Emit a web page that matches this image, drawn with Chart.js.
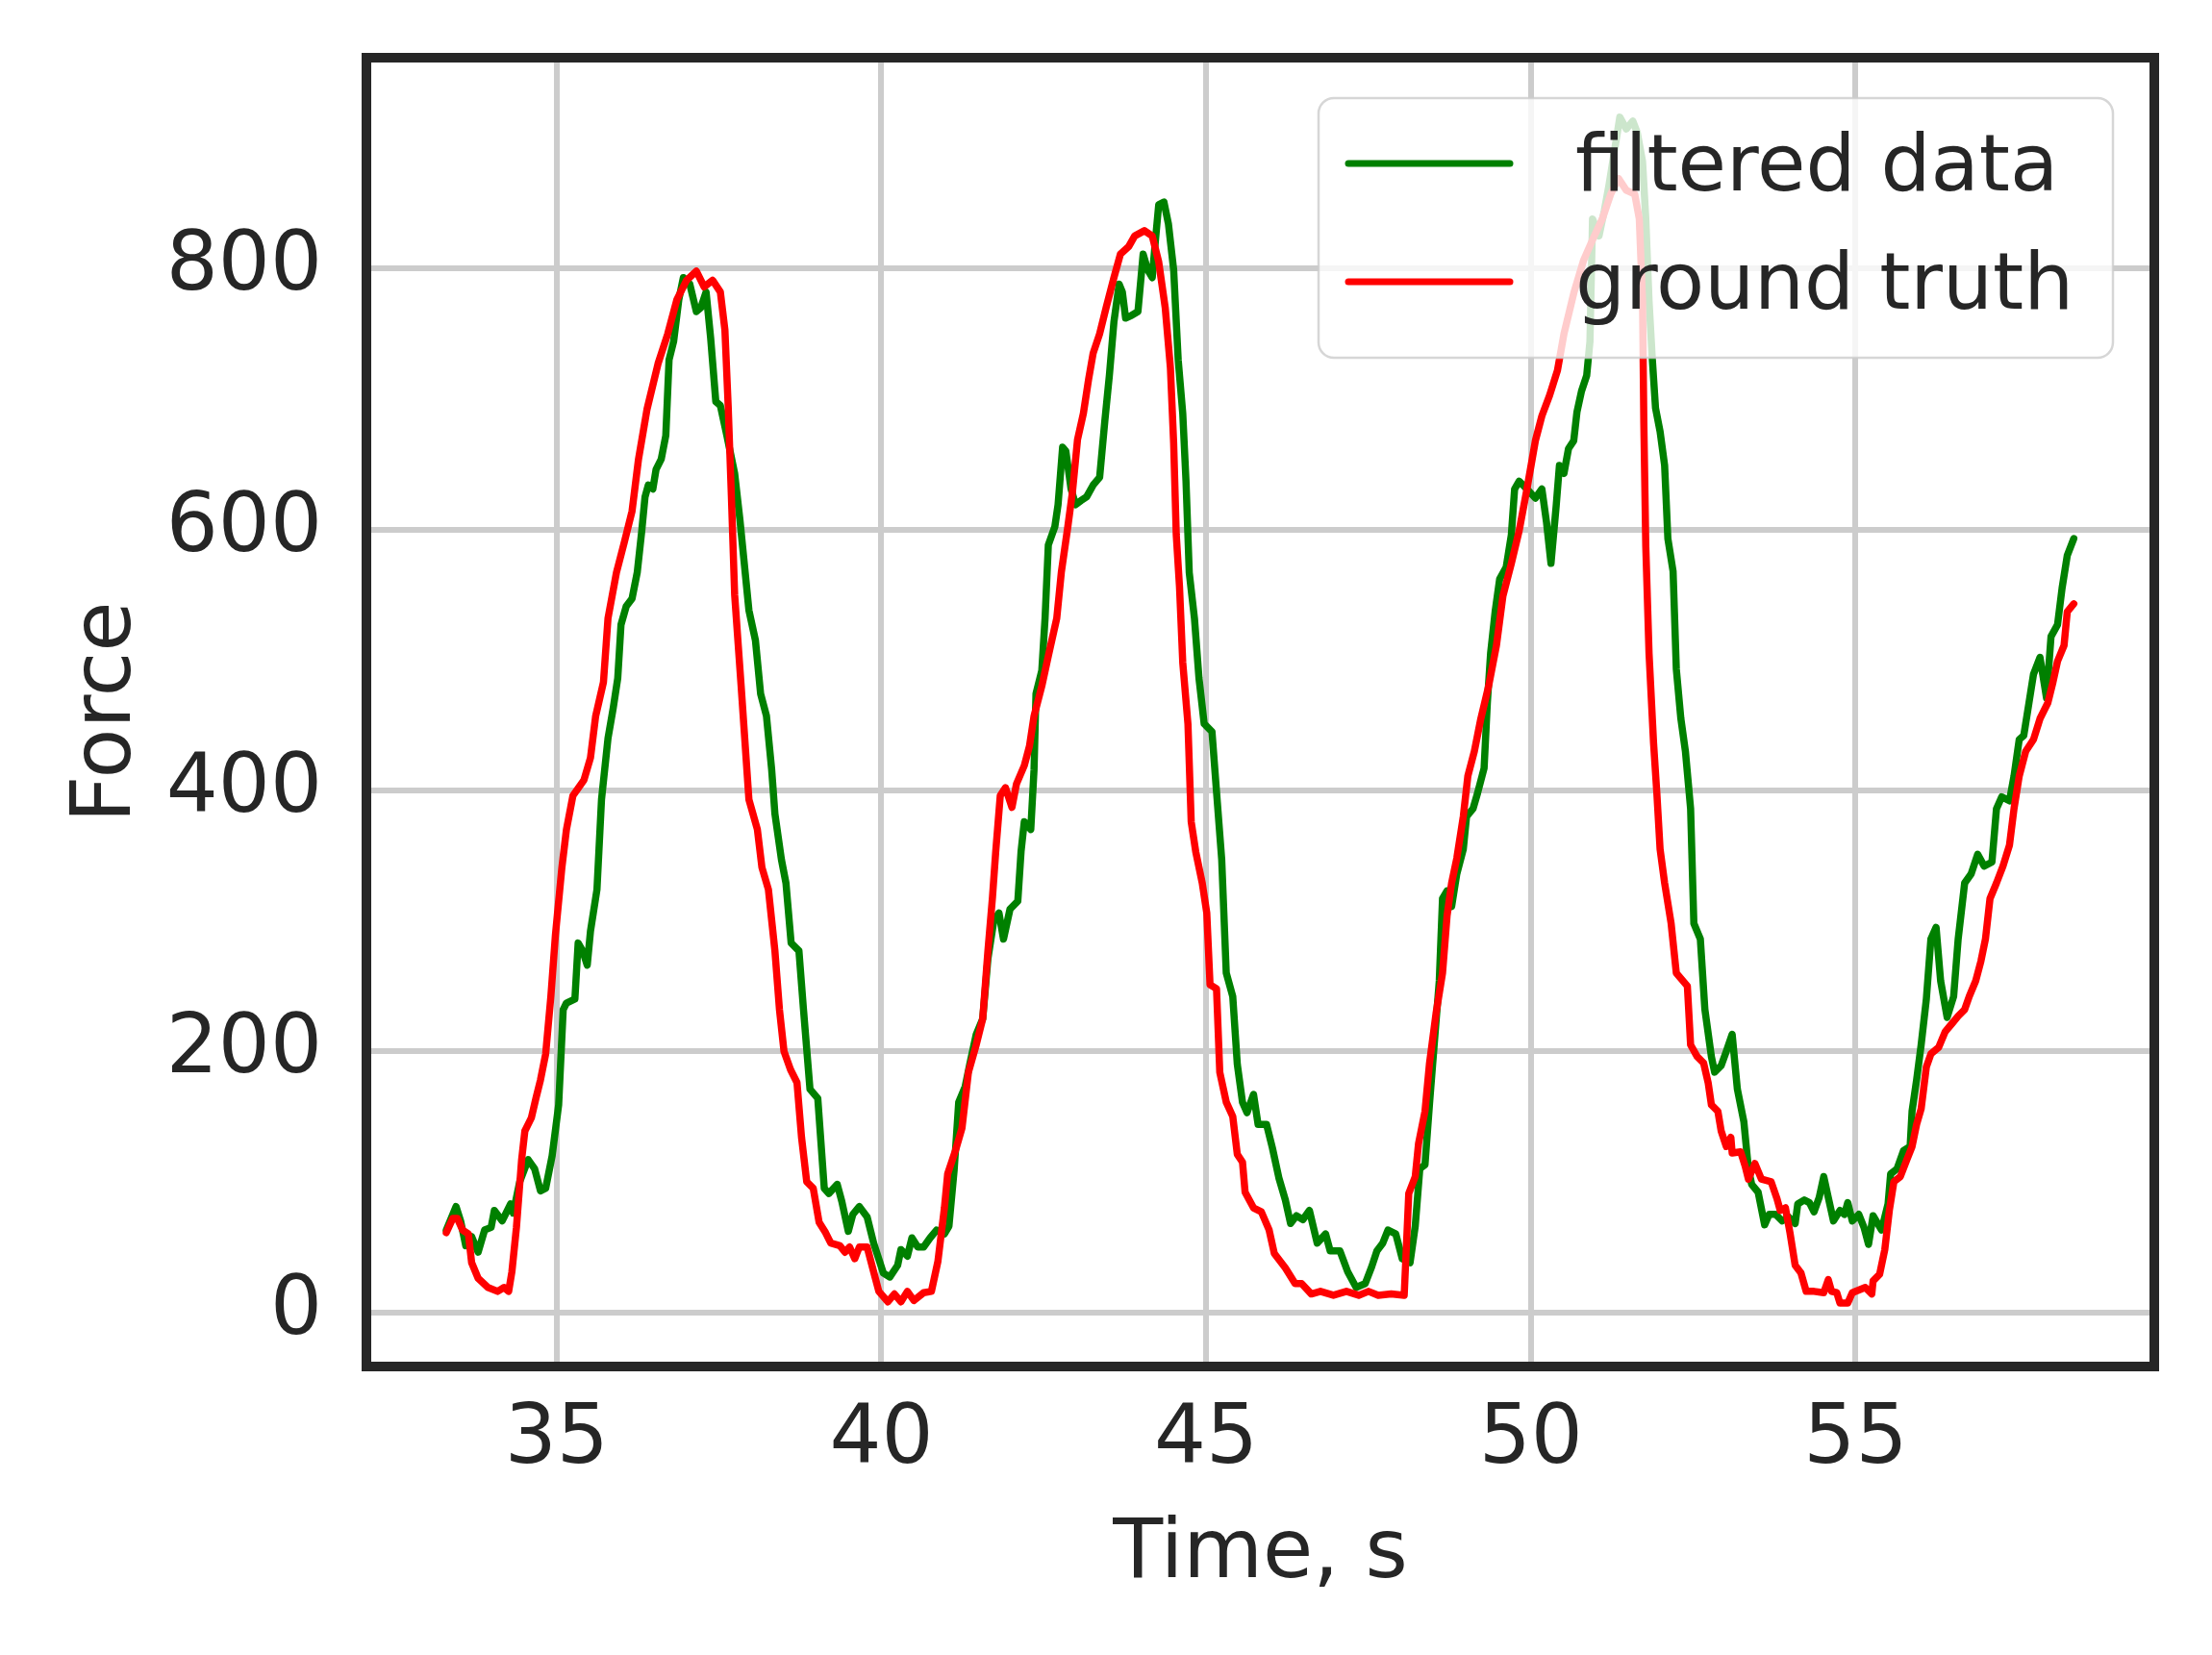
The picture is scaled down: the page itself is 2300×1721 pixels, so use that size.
<!DOCTYPE html>
<html>
<head>
<meta charset="utf-8">
<script src="https://cdn.jsdelivr.net/npm/chart.js@4/dist/chart.umd.min.js"></script>
<style>
  html, body { margin: 0; padding: 0; background: #ffffff; }
  canvas { display: block; }
</style>
</head>
<body>
<canvas id="myChart" width="2300" height="1721"></canvas>
<script>
// values
const filteredTime = [
  33.30, 33.45, 33.52, 33.60, 33.69, 33.79, 33.89, 33.99, 34.04, 34.16, 34.29, 34.33, 34.43, 34.56, 34.66, 34.75,
  34.83, 34.93, 35.03, 35.10, 35.15, 35.28, 35.33, 35.40, 35.47, 35.52, 35.62, 35.69, 35.79, 35.87, 35.94, 35.99,
  36.07, 36.16, 36.24, 36.31, 36.36, 36.41, 36.48, 36.53, 36.61, 36.68, 36.73, 36.80, 36.88, 36.95, 37.05, 37.15,
  37.22, 37.30, 37.37, 37.45, 37.52, 37.62, 37.74, 37.82, 37.89, 37.96, 38.06, 38.14, 38.23, 38.31, 38.36, 38.46,
  38.53, 38.61, 38.73, 38.80, 38.90, 39.02, 39.12, 39.19, 39.32, 39.39, 39.49, 39.56, 39.66, 39.78, 39.88, 40.03,
  40.13, 40.25, 40.30, 40.40, 40.47, 40.56, 40.65, 40.75, 40.85, 40.97, 41.04, 41.12, 41.19, 41.29, 41.36, 41.46,
  41.56, 41.64, 41.73, 41.81, 41.88, 41.98, 42.10, 42.15, 42.20, 42.30, 42.35, 42.38, 42.47, 42.52, 42.57, 42.67,
  42.72, 42.79, 42.84, 42.92, 42.99, 43.07, 43.16, 43.26, 43.36, 43.44, 43.51, 43.58, 43.66, 43.71, 43.76, 43.85,
  43.95, 44.03, 44.10, 44.17, 44.22, 44.27, 44.35, 44.42, 44.50, 44.57, 44.64, 44.69, 44.74, 44.82, 44.89, 44.97,
  45.09, 45.16, 45.24, 45.31, 45.41, 45.48, 45.56, 45.63, 45.73, 45.80, 45.93, 46.02, 46.12, 46.22, 46.30, 46.39,
  46.49, 46.59, 46.71, 46.84, 46.91, 47.06, 47.18, 47.31, 47.45, 47.55, 47.63, 47.72, 47.80, 47.92, 48.02, 48.14,
  48.22, 48.29, 48.37, 48.44, 48.51, 48.59, 48.64, 48.71, 48.78, 48.86, 48.96, 49.01, 49.11, 49.18, 49.28, 49.33,
  49.38, 49.45, 49.52, 49.62, 49.70, 49.75, 49.82, 49.94, 50.07, 50.17, 50.24, 50.31, 50.39, 50.44, 50.51, 50.58,
  50.66, 50.71, 50.78, 50.86, 50.91, 50.95, 51.05, 51.13, 51.20, 51.30, 51.37, 51.47, 51.57, 51.64, 51.72, 51.77,
  51.82, 51.87, 51.92, 51.99, 52.06, 52.11, 52.19, 52.24, 52.31, 52.38, 52.46, 52.51, 52.61, 52.68, 52.78, 52.83,
  52.93, 53.01, 53.10, 53.18, 53.28, 53.35, 53.40, 53.50, 53.60, 53.67, 53.77, 53.87, 53.97, 54.07, 54.11, 54.21,
  54.29, 54.36, 54.44, 54.51, 54.58, 54.66, 54.76, 54.83, 54.88, 54.95, 55.05, 55.13, 55.20, 55.27, 55.40, 55.50,
  55.54, 55.64, 55.74, 55.84, 55.87, 55.94, 56.01, 56.09, 56.16, 56.24, 56.31, 56.41, 56.51, 56.58, 56.68, 56.78,
  56.88, 56.98, 57.10, 57.17, 57.25, 57.37, 57.44, 57.52, 57.59, 57.67, 57.74, 57.84, 57.94, 58.01, 58.11, 58.18,
  58.26, 58.36
];
const filteredForce = [
  63, 81, 70, 51, 58, 46, 63, 65, 78, 70, 83, 76, 100, 117, 110, 93,
  95, 120, 159, 232, 237, 240, 283, 277, 266, 292, 324, 393, 440, 463, 486, 527,
  541, 547, 567, 599, 625, 634, 631, 646, 654, 672, 730, 744, 776, 793, 788, 767,
  770, 782, 747, 698, 695, 672, 643, 608, 573, 538, 515, 474, 457, 416, 382, 347,
  329, 283, 277, 232, 171, 164, 95, 91, 98, 85, 62, 75, 81, 73, 53, 30,
  27, 36, 48, 43, 57, 50, 50, 57, 63, 60, 66, 109, 161, 173, 190, 213,
  225, 271, 300, 306, 286, 309, 315, 353, 376, 370, 416, 474, 492, 532, 588, 602,
  619, 663, 660, 631, 619, 622, 625, 634, 640, 683, 718, 759, 788, 782, 762, 764,
  767, 811, 799, 793, 822, 849, 851, 834, 799, 730, 689, 637, 567, 532, 486, 451,
  445, 399, 347, 260, 242, 190, 161, 153, 167, 144, 144, 126, 103, 86, 68, 74,
  71, 78, 53, 60, 47, 47, 31, 19, 22, 35, 47, 53, 63, 60, 41, 38,
  66, 110, 113, 160, 204, 254, 317, 323, 311, 336, 355, 380, 386, 398, 417, 467,
  505, 537, 562, 571, 596, 631, 637, 631, 624, 631, 606, 574, 618, 649, 643, 662,
  668, 690, 706, 718, 744, 838, 825, 844, 863, 894, 916, 907, 913, 904, 882, 838,
  775, 731, 693, 675, 649, 593, 568, 493, 455, 430, 386, 298, 286, 232, 196, 184,
  189, 200, 213, 171, 146, 110, 98, 92, 67, 75, 75, 70, 73, 68, 83, 86,
  84, 77, 88, 104, 88, 70, 78, 75, 84, 70, 75, 65, 52, 74, 63, 83,
  106, 110, 124, 127, 154, 178, 205, 240, 286, 295, 254, 226, 242, 286, 329, 336,
  351, 342, 345, 386, 395, 392, 411, 439, 442, 467, 489, 502, 471, 518, 527, 555,
  580, 593
];

const truthTime = [
  33.30, 33.40, 33.47, 33.55, 33.64, 33.69, 33.79, 33.94, 34.09, 34.19, 34.26, 34.31, 34.38, 34.46, 34.51, 34.61,
  34.68, 34.75, 34.83, 34.91, 34.98, 35.08, 35.15, 35.25, 35.42, 35.52, 35.60, 35.72, 35.79, 35.92, 36.04, 36.16,
  36.26, 36.39, 36.56, 36.71, 36.85, 37.00, 37.15, 37.27, 37.40, 37.52, 37.59, 37.64, 37.69, 37.74, 37.84, 37.96,
  38.09, 38.16, 38.26, 38.36, 38.43, 38.50, 38.60, 38.70, 38.77, 38.85, 38.95, 39.04, 39.14, 39.22, 39.36, 39.44,
  39.51, 39.59, 39.66, 39.78, 39.88, 39.96, 40.10, 40.20, 40.30, 40.40, 40.50, 40.65, 40.77, 40.87, 40.97, 41.02,
  41.14, 41.24, 41.34, 41.46, 41.56, 41.64, 41.71, 41.76, 41.83, 41.91, 42.01, 42.08, 42.20, 42.28, 42.35, 42.47,
  42.57, 42.70, 42.77, 42.87, 42.94, 43.02, 43.11, 43.19, 43.26, 43.36, 43.46, 43.58, 43.68, 43.81, 43.90, 44.05,
  44.17, 44.27, 44.37, 44.45, 44.50, 44.54, 44.59, 44.64, 44.72, 44.77, 44.84, 44.94, 45.01, 45.06, 45.16, 45.21,
  45.31, 45.41, 45.48, 45.56, 45.60, 45.73, 45.85, 45.97, 46.05, 46.22, 46.37, 46.47, 46.62, 46.76, 46.96, 47.16,
  47.35, 47.50, 47.65, 47.85, 48.05, 48.12, 48.22, 48.27, 48.37, 48.44, 48.54, 48.64, 48.71, 48.78, 48.86, 48.96,
  49.03, 49.13, 49.23, 49.35, 49.47, 49.57, 49.70, 49.82, 49.94, 50.07, 50.17, 50.29, 50.41, 50.51, 50.66, 50.81,
  50.95, 51.10, 51.23, 51.35, 51.47, 51.60, 51.67, 51.72, 51.74, 51.77, 51.82, 51.89, 51.94, 51.99, 52.06, 52.16,
  52.24, 52.29, 52.41, 52.46, 52.56, 52.66, 52.73, 52.78, 52.88, 52.93, 53.01, 53.08, 53.10, 53.23, 53.30, 53.35,
  53.45, 53.55, 53.70, 53.79, 53.84, 53.92, 53.99, 54.07, 54.16, 54.24, 54.36, 54.51, 54.58, 54.63, 54.71, 54.76,
  54.88, 54.95, 55.05, 55.15, 55.25, 55.27, 55.37, 55.45, 55.52, 55.59, 55.69, 55.79, 55.87, 55.94, 56.01, 56.09,
  56.16, 56.28, 56.38, 56.48, 56.58, 56.68, 56.75, 56.85, 56.93, 57.00, 57.07, 57.17, 57.27, 57.37, 57.44, 57.52,
  57.62, 57.74, 57.84, 57.96, 58.04, 58.11, 58.21, 58.26, 58.36
];
const truthForce = [
  61, 72, 72, 63, 60, 38, 26, 19, 16, 19, 16, 31, 65, 117, 139, 149,
  164, 178, 198, 242, 289, 341, 370, 396, 408, 425, 457, 483, 532, 567, 590, 614,
  654, 692, 727, 750, 776, 791, 798, 786, 791, 782, 753, 695, 625, 550, 480, 393,
  370, 341, 324, 277, 232, 200, 186, 176, 134, 100, 95, 69, 61, 53, 51, 46,
  50, 41, 50, 50, 31, 16, 8, 14, 8, 16, 9, 15, 16, 39, 80, 106,
  124, 141, 184, 205, 225, 277, 318, 353, 396, 402, 387, 405, 419, 434, 457, 480,
  503, 532, 567, 602, 628, 669, 689, 715, 735, 750, 770, 793, 811, 817, 825, 829,
  825, 805, 770, 724, 666, 596, 556, 498, 451, 376, 353, 329, 306, 251, 248, 184,
  161, 150, 121, 115, 92, 80, 77, 63, 45, 34, 22, 22, 14, 16, 13, 16,
  13, 16, 13, 14, 13, 91, 104, 129, 154, 191, 229, 260, 304, 329, 348, 380,
  411, 430, 455, 480, 511, 549, 574, 599, 631, 668, 687, 703, 722, 750, 781, 806,
  822, 838, 857, 869, 860, 857, 838, 775, 681, 587, 505, 436, 398, 355, 329, 298,
  260, 257, 250, 205, 196, 191, 176, 159, 154, 139, 127, 134, 122, 123, 112, 102,
  114, 102, 100, 87, 78, 80, 61, 36, 30, 16, 16, 15, 25, 16, 15, 7,
  7, 15, 17, 19, 14, 24, 29, 48, 78, 100, 104, 117, 127, 144, 156, 188,
  198, 203, 215, 221, 227, 232, 242, 254, 269, 286, 317, 329, 342, 358, 386, 411,
  430, 439, 455, 467, 483, 499, 511, 537, 543
];

const xTicks = [35, 40, 45, 50, 55];
const yTicks = [0, 200, 400, 600, 800];

const seriesLabels = ['filtered data', 'ground truth'];
const seriesColors = ['#008000', '#ff0000'];

const ink = '#262626';
Chart.defaults.font.family = "'DejaVu Sans', sans-serif";
Chart.defaults.color = ink;

function points(xs, ys) {
	return xs.map((x, i) => ({ x: x, y: ys[i] }));
}

// no extra room for the edge labels, the plot box is fixed by the layout padding
function noEdgePadding(s) {
	s.paddingTop = 0;
	s.paddingBottom = 0;
	s.paddingLeft = 0;
	s.paddingRight = 0;
}

// thick dark frame + legend box in the upper right, like the matplotlib figure
const frameAndLegend = {
	id: 'frameAndLegend',
	afterDatasetsDraw(chart) {
		const ctx = chart.ctx;
		const a = chart.chartArea;
		ctx.save();
		ctx.strokeStyle = ink;
		ctx.lineWidth = 10;
		ctx.strokeRect(a.left, a.top, a.right - a.left, a.bottom - a.top);

		// legend
		const bx = 1371, by = 102, bw = 826, bh = 270, r = 16;
		ctx.beginPath();
		ctx.roundRect(bx, by, bw, bh, r);
		ctx.fillStyle = 'rgba(255,255,255,0.8)';
		ctx.fill();
		ctx.lineWidth = 2.5;
		ctx.strokeStyle = 'rgba(204,204,204,0.8)';
		ctx.stroke();

		const rows = [170, 293];
		chart.data.datasets.forEach(ds => {
			const k = seriesLabels.indexOf(ds.label);
			const y = rows[k];
			ctx.beginPath();
			ctx.moveTo(1402, y);
			ctx.lineTo(1570, y);
			ctx.strokeStyle = ds.borderColor;
			ctx.lineWidth = 7;
			ctx.lineCap = 'round';
			ctx.stroke();
			ctx.fillStyle = ink;
			ctx.font = "82px 'DejaVu Sans'";
			ctx.textAlign = 'left';
			ctx.textBaseline = 'alphabetic';
			ctx.fillText(ds.label, 1638, y + 28);
		});
		ctx.restore();
	}
};

new Chart(document.getElementById('myChart'), {
	type: 'line',
	data: {
		datasets: [
			{
				label: seriesLabels[0],
				data: points(filteredTime, filteredForce),
				borderColor: seriesColors[0],
				borderWidth: 7.5,
				pointRadius: 0,
				tension: 0,
				borderJoinStyle: 'round',
				borderCapStyle: 'round',
				order: 1
			},
			{
				label: seriesLabels[1],
				data: points(truthTime, truthForce),
				borderColor: seriesColors[1],
				borderWidth: 7.5,
				pointRadius: 0,
				tension: 0,
				borderJoinStyle: 'round',
				borderCapStyle: 'round',
				order: 0
			}
		]
	},
	options: {
		responsive: false,
		animation: false,
		devicePixelRatio: 1,
		layout: { padding: { top: 60, right: 60, left: 0, bottom: 0 } },
		plugins: {
			legend: { display: false },
			tooltip: { enabled: false }
		},
		scales: {
			x: {
				type: 'linear',
				min: 32.07,
				max: 59.6,
				afterBuildTicks: s => { s.ticks = xTicks.map(v => ({ value: v })); },
				afterFit: s => { s.height = 300; noEdgePadding(s); },
				grid: { color: '#cccccc', lineWidth: 6, drawTicks: false },
				border: { display: false },
				ticks: { font: { size: 85 }, padding: 27, maxRotation: 0, color: ink },
				title: { display: true, text: 'Time, s', font: { size: 85 }, padding: { bottom: 52, top: 0 }, color: ink }
			},
			y: {
				type: 'linear',
				min: -41.6,
				max: 961.6,
				afterBuildTicks: s => { s.ticks = yTicks.map(v => ({ value: v })); },
				afterFit: s => { s.width = 381; noEdgePadding(s); },
				grid: { color: '#cccccc', lineWidth: 6, drawTicks: false },
				border: { display: false },
				ticks: { font: { size: 85 }, padding: 46, color: ink },
				title: { display: true, text: 'Force', font: { size: 85 }, padding: { top: 62, bottom: 0 }, color: ink }
			}
		}
	},
	plugins: [frameAndLegend]
});
</script>
</body>
</html>
